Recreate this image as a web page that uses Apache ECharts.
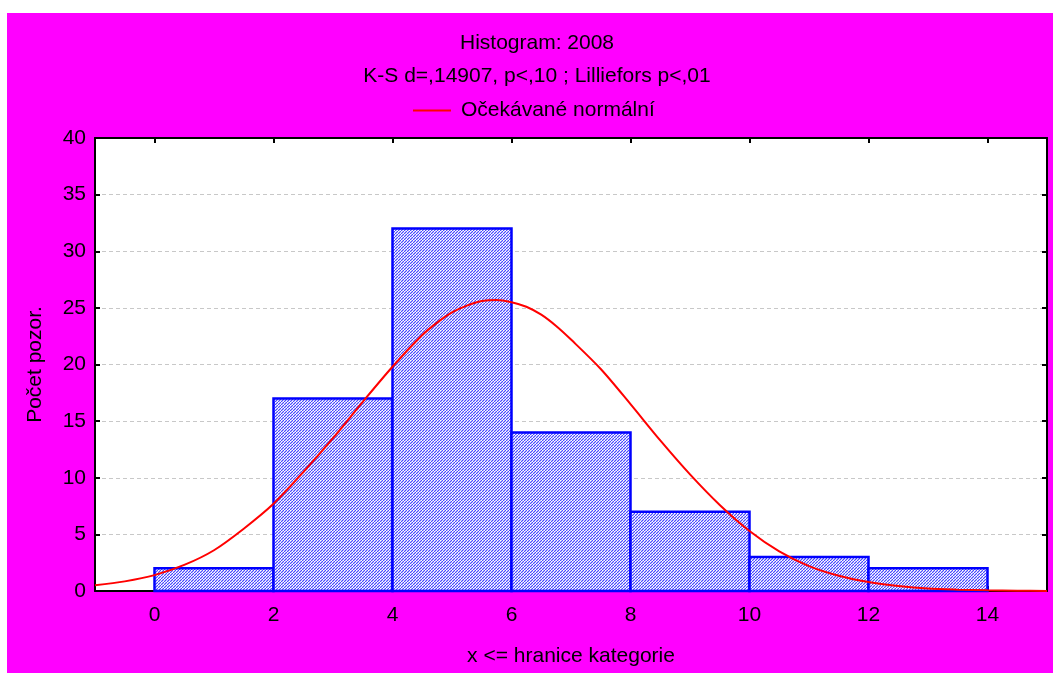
<!DOCTYPE html>
<html>
<head>
<meta charset="utf-8">
<script src="https://cdn.jsdelivr.net/npm/echarts@6/dist/echarts.min.js"></script>
<style>
  html, body { margin: 0; padding: 0; background: #fff; }
  #chart { position: absolute; left: 7px; top: 13px; width: 1046px; height: 660px; }
</style>
</head>
<body>
<div id="chart"></div>
<script>
// histogram bins
var binStart = [0, 2, 4, 6, 8, 10, 12]
var binEnd = [2, 4, 6, 8, 10, 12, 14]
var counts = [2, 17, 32, 14, 7, 3, 2]

// expected normal curve
var curveX = [-1, -0.5, 0, 0.5, 1, 1.5, 2, 2.5, 3, 3.5, 4, 4.5, 4.75, 5, 5.25, 5.5, 5.75, 6, 6.25, 6.5, 6.75, 7, 7.5, 8, 8.5, 9, 9.5, 10, 10.5, 11, 11.5, 12, 12.5, 13, 13.5, 14, 14.5, 15]
var curveY = [0.5, 0.85, 1.4, 2.3, 3.6, 5.5, 7.7, 10.5, 13.5, 16.7, 19.8, 22.6, 23.7, 24.6, 25.2, 25.6, 25.7, 25.5, 25.1, 24.4, 23.4, 22.2, 19.6, 16.5, 13.3, 10.3, 7.6, 5.3, 3.5, 2.2, 1.35, 0.8, 0.45, 0.22, 0.12, 0.06, 0.03, 0.01]

var xTicks = [0, 2, 4, 6, 8, 10, 12, 14]

var font = 'Liberation Sans, Arial, sans-serif'

// hatch pattern for the bars
var pat = document.createElement('canvas')
pat.width = 3
pat.height = 3
var pctx = pat.getContext('2d')
pctx.fillStyle = '#c4c4ff'
pctx.fillRect(0, 0, 3, 3)
pctx.fillStyle = '#ffffff'
for (var i = 0; i < 3; i++) {
  pctx.fillRect(i, (i + 1) % 3, 1, 1)
}
pctx.fillStyle = '#4848ff'
for (var i2 = 0; i2 < 3; i2++) {
  pctx.fillRect(i2, 2 - i2, 1, 1)
}

var histData = []
for (var k = 0; k < counts.length; k++) {
  histData.push([binStart[k], binEnd[k], counts[k]])
}
var curveData = []
for (var j = 0; j < curveX.length; j++) {
  curveData.push([curveX[j], curveY[j]])
}

var chart = echarts.init(document.getElementById('chart'))

var option = {
  backgroundColor: '#ff00ff',
  animation: false,
  textStyle: { fontFamily: font, color: '#000' },
  title: [
    {
      text: 'Histogram: 2008',
      left: 525, top: 15, textAlign: 'center',
      textStyle: { fontSize: 21, fontWeight: 'normal', color: '#000', fontFamily: font }
    },
    {
      text: 'K-S d=,14907, p<,10 ; Lilliefors p<,01',
      left: 525, top: 48, textAlign: 'center',
      textStyle: { fontSize: 21, fontWeight: 'normal', color: '#000', fontFamily: font }
    }
  ],
  legend: {
    top: 82,
    left: 401,
    icon: 'rect',
    itemWidth: 38,
    itemHeight: 2,
    textStyle: { fontSize: 21, color: '#000', fontFamily: font, padding: [0, 0, 0, 5] },
    data: ['Očekávané normální']
  },
  grid: {
    left: 88, right: 6, top: 125, bottom: 82,
    outerBoundsMode: 'none',
    show: true, backgroundColor: '#ffffff', borderWidth: 0
  },
  xAxis: [
    {
      type: 'value', min: -1, max: 15, position: 'bottom',
      name: 'x <= hranice kategorie', nameLocation: 'middle', nameGap: 55,
      nameTextStyle: { fontSize: 21, color: '#000', fontFamily: font },
      axisLine: { onZero: false, lineStyle: { color: '#000', width: 2 } },
      axisTick: { inside: true, length: 5, customValues: xTicks, lineStyle: { color: '#000', width: 2 } },
      axisLabel: { customValues: xTicks, margin: 14, fontSize: 21, color: '#000', fontFamily: font },
      splitLine: { show: false }
    },
    {
      type: 'value', min: -1, max: 15, position: 'top',
      axisLine: { onZero: false, lineStyle: { color: '#000', width: 2 } },
      axisTick: { inside: true, length: 5, customValues: xTicks, lineStyle: { color: '#000', width: 2 } },
      axisLabel: { show: false },
      splitLine: { show: false }
    }
  ],
  yAxis: [
    {
      type: 'value', min: 0, max: 40, interval: 5, position: 'left',
      name: 'Počet pozor.', nameLocation: 'middle', nameGap: 49,
      nameTextStyle: { fontSize: 21, color: '#000', fontFamily: font },
      axisLine: { show: true, onZero: false, lineStyle: { color: '#000', width: 2 } },
      axisTick: { show: true, inside: true, length: 5, lineStyle: { color: '#000', width: 2 } },
      axisLabel: { margin: 9, fontSize: 21, color: '#000', fontFamily: font },
      splitLine: { show: true, lineStyle: { color: '#c8c8c8', type: [4, 3], width: 1 } }
    },
    {
      type: 'value', min: 0, max: 40, interval: 5, position: 'right',
      axisLine: { show: true, onZero: false, lineStyle: { color: '#000', width: 2 } },
      axisTick: { show: true, inside: true, length: 5, lineStyle: { color: '#000', width: 2 } },
      axisLabel: { show: false },
      splitLine: { show: false }
    }
  ],
  series: [
    {
      type: 'custom',
      name: 'hist',
      xAxisIndex: 0,
      yAxisIndex: 0,
      data: histData,
      renderItem: function (params, api) {
        var p0 = api.coord([api.value(0), 0])
        var p1 = api.coord([api.value(1), api.value(2)])
        return {
          type: 'rect',
          shape: { x: p0[0], y: p1[1], width: p1[0] - p0[0], height: p0[1] - p1[1] },
          style: { fill: { image: pat, repeat: 'repeat' }, stroke: '#0000ff', lineWidth: 2.5 }
        }
      },
      z: 2
    },
    {
      type: 'line',
      name: 'Očekávané normální',
      xAxisIndex: 0,
      yAxisIndex: 0,
      data: curveData,
      smooth: 0.3,
      symbol: 'none',
      color: '#ff0000',
      lineStyle: { color: '#ff0000', width: 2 },
      z: 3
    }
  ]
}

chart.setOption(option)
</script>
</body>
</html>
